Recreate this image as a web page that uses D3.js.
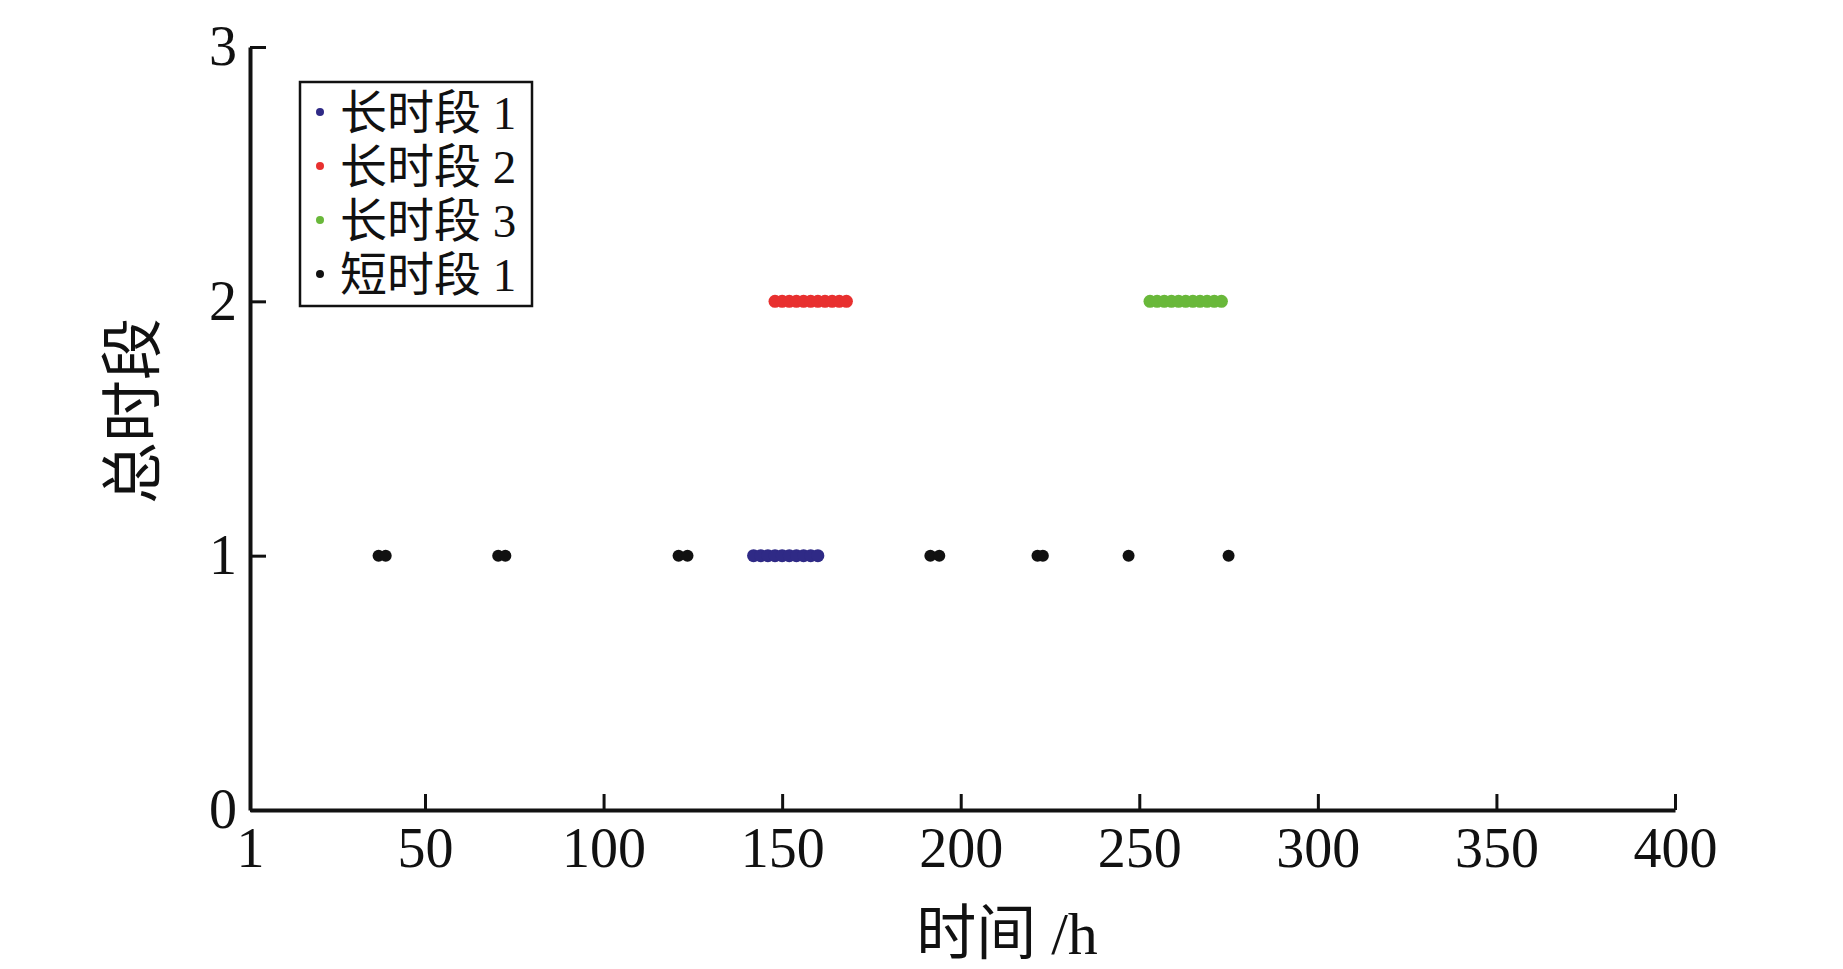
<!DOCTYPE html>
<html>
<head>
<meta charset="utf-8">
<script src="https://cdn.jsdelivr.net/npm/d3@7"></script>
<style>
  body { margin: 0; background: #fff; }
  svg { display: block; }
  .axis text { font-family: "Liberation Serif", "Noto Sans CJK SC", serif; font-size: 56px; fill: #111; }
  .axis path, .axis line { stroke: #111; }
  .label { font-family: "Liberation Serif", "Noto Sans CJK SC", serif; fill: #111; }
</style>
</head>
<body>
<script>
// Chart data
var seriesNames = ["长时段 1", "长时段 2", "长时段 3", "短时段 1"];
var seriesColors = ["#2f2a86", "#e8302f", "#69b83a", "#111111"];
var seriesLevel = [1, 2, 2, 1];

// hours of each point in a series
var long1 = [142, 144, 146, 148, 150, 152, 154, 156, 158, 160];
var long2 = [148, 150, 152, 154, 156, 158, 160, 162, 164, 166, 168];
var long3 = [253, 255, 257, 259, 261, 263, 265, 267, 269, 271, 273];
var short1 = [37, 39, 70.5, 72.5, 121, 123.5, 191.5, 194, 221.5, 223, 247, 275];

var xTicks = [1, 50, 100, 150, 200, 250, 300, 350, 400];
var yTicks = [0, 1, 2, 3];

var width = 1843, height = 969;

var svg = d3.select("body").append("svg")
    .attr("width", width)
    .attr("height", height);

svg.append("rect").attr("width", width).attr("height", height).attr("fill", "#fff");

var x = d3.scaleLinear().domain([1, 400]).range([250, 1675]);
var y = d3.scaleLinear().domain([0, 3]).range([810, 47]);

// x axis, ticks pointing inward
var xAxis = svg.append("g")
    .attr("class", "axis")
    .attr("transform", "translate(0," + y(0) + ")")
    .call(d3.axisBottom(x)
        .tickValues(xTicks)
        .tickFormat(d3.format("d"))
        .tickSizeInner(-16)
        .tickSizeOuter(0)
        .tickPadding(17));
xAxis.select(".domain").attr("stroke-width", 4);
xAxis.selectAll(".tick line").attr("stroke-width", 3);

var yAxis = svg.append("g")
    .attr("class", "axis")
    .attr("transform", "translate(" + x(1) + ",0)")
    .call(d3.axisLeft(y)
        .tickValues(yTicks)
        .tickFormat(d3.format("d"))
        .tickSizeInner(-16)
        .tickSizeOuter(0)
        .tickPadding(13));
yAxis.select(".domain").attr("stroke-width", 4);
yAxis.selectAll(".tick line").attr("stroke-width", 3);

// points
var allSeries = [long1, long2, long3, short1];
allSeries.forEach(function(vals, i) {
    svg.append("g")
        .selectAll("circle")
        .data(vals)
        .enter()
        .append("circle")
        .attr("cx", function(d) { return x(d); })
        .attr("cy", y(seriesLevel[i]))
        .attr("r", i == 3 ? 6 : 6.5)
        .attr("fill", seriesColors[i]);
});

// axis titles
svg.append("text")
    .attr("class", "label")
    .attr("x", 1007)
    .attr("y", 954)
    .attr("text-anchor", "middle")
    .style("font-size", "60px")
    .text("时间 /h");

svg.append("text")
    .attr("class", "label")
    .attr("transform", "translate(155,411) rotate(-90)")
    .attr("text-anchor", "middle")
    .style("font-size", "62px")
    .text("总时段");

// legend
var legend = svg.append("g").attr("transform", "translate(300,82)");
legend.append("rect")
    .attr("width", 232)
    .attr("height", 224)
    .attr("fill", "#fff")
    .attr("stroke", "#111")
    .attr("stroke-width", 2.5);

var rows = legend.selectAll(".row")
    .data(seriesNames)
    .enter()
    .append("g")
    .attr("transform", function(d, i) { return "translate(0," + (30 + i * 54) + ")"; });

rows.append("circle")
    .attr("cx", 20)
    .attr("cy", 0)
    .attr("r", 4)
    .attr("fill", function(d, i) { return seriesColors[i]; });

rows.append("text")
    .attr("class", "label")
    .attr("x", 40)
    .attr("y", 0)
    .attr("dy", "0.36em")
    .style("font-size", "47px")
    .text(function(d) { return d; });
</script>
</body>
</html>
